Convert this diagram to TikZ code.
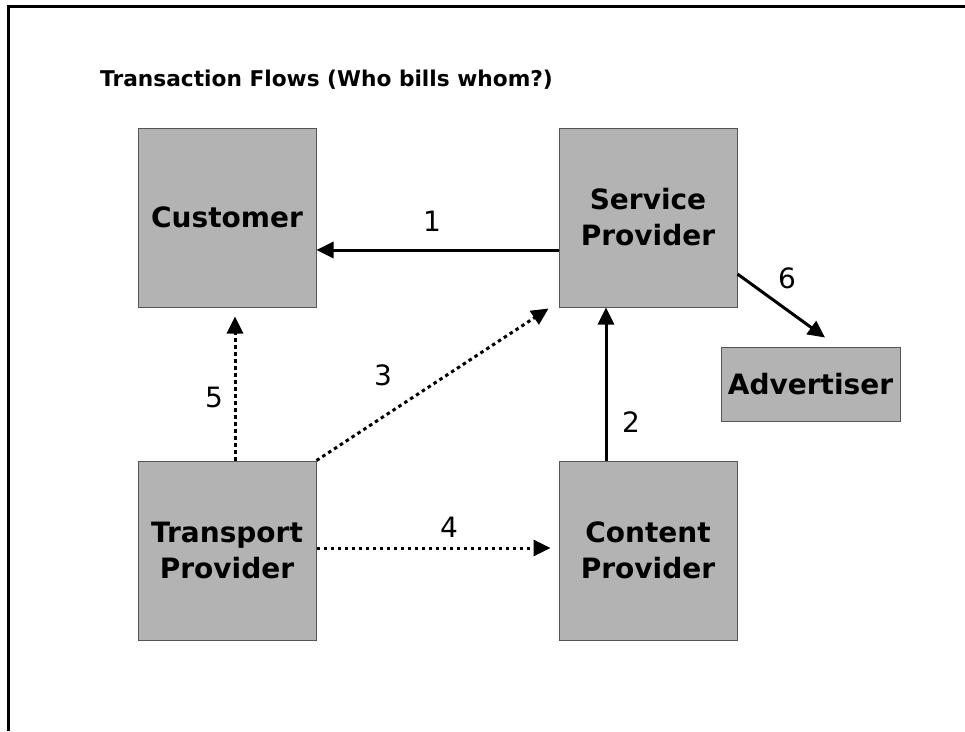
\documentclass[tikz,border=0pt]{standalone}
\usepackage{fontspec}
\setmainfont{DejaVu Sans}
\usetikzlibrary{arrows.meta}
\definecolor{boxgray}{HTML}{B3B3B3}
\definecolor{boxline}{HTML}{555555}
\begin{document}
\begin{tikzpicture}[x=1pt,y=-1pt,
  entity/.style={draw=boxline,line width=1pt,fill=boxgray,inner sep=0pt,
    minimum width=178pt,minimum height=179pt,align=center,
    font=\bfseries\fontsize{28}{36}\selectfont},
  flow/.style={line width=3pt,-{Triangle[length=17pt,width=16pt]}},
  dflow/.style={flow,dash pattern=on 3.5pt off 3.5pt},
  num/.style={font=\fontsize{28}{34}\selectfont,inner sep=0pt}]
\useasboundingbox (0,0) rectangle (965,731);
\fill[white] (0,0) rectangle (965,731);
\draw[line width=2.5pt] (8.5,731) -- (8.5,6.5) -- (965,6.5);
\node[anchor=base west,inner sep=0pt,font=\bfseries\fontsize{21.7}{26}\selectfont] (title) at (100,86) {Transaction Flows (Who bills whom?)};
\node[entity] (cu) at (227,217.5) {Customer};
\node[entity] (sp) at (648,217.5) {Service\\Provider};
\node[entity] (tp) at (227,550.5) {Transport\\Provider};
\node[entity] (cp) at (648,550.5) {Content\\Provider};
\node[entity,minimum width=179pt,minimum height=74pt] (ad) at (810.5,384) {Advertiser};
\draw[flow] ([yshift=-32.5pt]sp.west) -- ([yshift=-32.5pt]cu.east);
\draw[flow] ([xshift=-42pt]cp.north) -- ([xshift=-42pt]sp.south);
\draw[dflow] (tp.north east) -- ([xshift=-10pt,yshift=-1pt]sp.south west);
\draw[dflow] ([yshift=2.5pt]tp.east) -- ([xshift=-8pt,yshift=2.5pt]cp.west);
\draw[dflow] ([xshift=8pt]tp.north) -- ([xshift=8pt,yshift=-9pt]cu.south);
\draw[flow] ([yshift=-56.5pt]sp.east) -- ([xshift=14.5pt,yshift=9pt]ad.north);
\node[num] (n1) at (432,221) {1};
\node[num] (n2) at (631,422) {2};
\node[num] (n3) at (383,375) {3};
\node[num] (n4) at (449,527) {4};
\node[num] (n5) at (214,397) {5};
\node[num] (n6) at (787,278) {6};
\end{tikzpicture}
\end{document}
